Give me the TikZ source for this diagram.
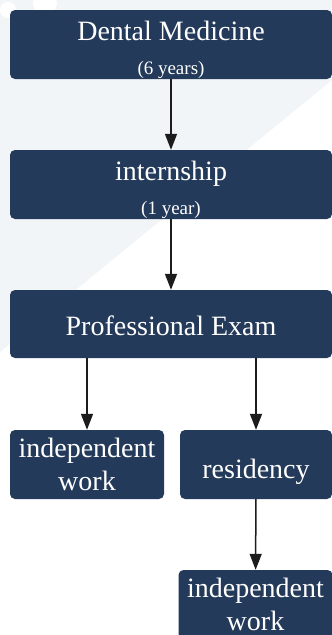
\documentclass[tikz,border=0pt]{standalone}
\usepackage{fontspec}
\setmainfont{Liberation Serif}
\usepackage{tikz}
\usetikzlibrary{arrows.meta,positioning,calc}
\definecolor{boxblue}{HTML}{243A5A}
\definecolor{paleback}{HTML}{F2F5F7}
\definecolor{arrowblack}{HTML}{1C1C1C}
\tikzset{
  stage/.style={rectangle,rounded corners=5pt,fill=boxblue,text=white,
    minimum height=69pt,inner sep=0pt,align=center,
    font=\fontsize{28}{33}\selectfont},
  flow/.style={draw=arrowblack,line width=1.5pt,
    -{Triangle[length=16pt,width=12pt]}}
}
\newcommand{\smalltext}[1]{{\fontsize{19}{22}\selectfont #1}}

\begin{document}
\begin{tikzpicture}[x=1pt,y=-1pt]
\useasboundingbox (0,0) rectangle (332,635);
\fill[white] (0,0) rectangle (332,635);
\fill[paleback] (0,0) -- (332,0) -- (332,80) -- (0,352) -- cycle;
\fill[white] (8,10) circle (8) (45,3) circle (12);

\node[stage,minimum width=322pt] (dental) at (171,44.5)
  {\rule{0pt}{30pt}Dental Medicine\\[1pt]\smalltext{(6 years)}};
\node[stage,minimum width=322pt] (intern) at (171,184.5)
  {\rule{0pt}{30pt}internship\\[1pt]\smalltext{(1 year)}};
\node[stage,minimum width=322pt,minimum height=68pt] (exam) at (171,324)
  {\rule{0pt}{23pt}Professional Exam};
\node[stage,minimum width=154pt] (workA) at (87,464.5)
  {independent\\work};
\node[stage,minimum width=152pt] (resid) at (256,464.5)
  {\rule{0pt}{35pt}residency};
\node[stage,minimum width=154pt] (workB) at (255.5,604.5)
  {independent\\work};

\draw[flow] (dental) -- (intern);
\draw[flow] (intern) -- (exam);
\draw[flow] (exam.south -| workA) -- (workA);
\draw[flow] (exam.south -| resid) -- (resid);
\draw[flow] (resid) -- (workB);
\end{tikzpicture}
\end{document}
